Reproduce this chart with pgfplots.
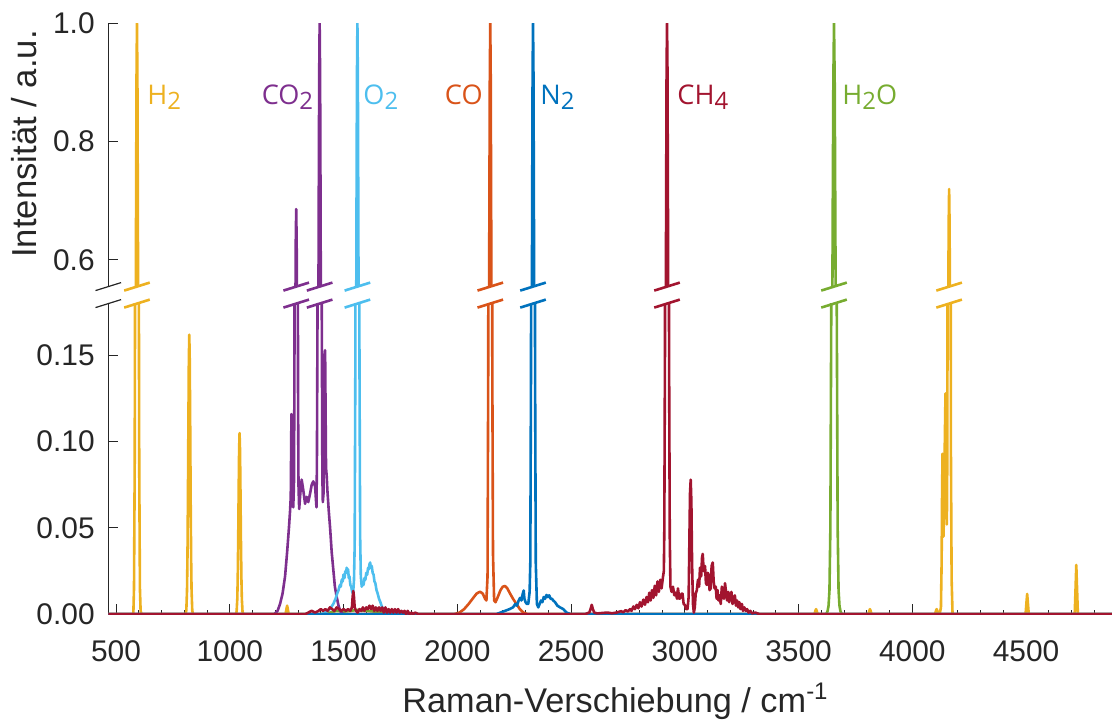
\documentclass[border=0pt]{standalone}
\usepackage{pgfplots}
\pgfplotsset{compat=1.18}
\usepackage{pgfplotstable}
\usepackage{fontspec}
\setmainfont{Liberation Sans}
\newfontfamily\lblfont{Open Sans}

\definecolor{cH}{HTML}{EDB120}
\definecolor{cCOz}{HTML}{7E2F8E}
\definecolor{cO}{HTML}{4DBEEE}
\definecolor{cCO}{HTML}{D95319}
\definecolor{cN}{HTML}{0072BD}
\definecolor{cCH}{HTML}{A2142F}
\definecolor{cW}{HTML}{77AC30}
\definecolor{cAx}{HTML}{262626}

% H2
\pgfplotstableread{
x y
466 0
576 0
579 0.015
582 0.085
584 0.206
586 0.411
588 0.674
590 0.906
592 1.0
594 0.906
596 0.674
598 0.411
600 0.206
602 0.085
605 0.015
608 0.002
612 0
806 0
809 0.0024
812 0.0138
814 0.0334
816 0.0666
818 0.109
820 0.147
822 0.162
824 0.147
826 0.109
828 0.0666
830 0.0334
832 0.0138
835 0.0024
838 0
1027 0
1030 0.0016
1033 0.0089
1035 0.0216
1037 0.0432
1039 0.0708
1041 0.0951
1043 0.105
1045 0.0951
1047 0.0708
1049 0.0432
1051 0.0216
1053 0.0089
1056 0.0016
1059 0
1245 0
1249 0.003
1252 0.005
1255 0.003
1259 0
3570 0
3574 0.002
3577 0.003
3580 0.002
3584 0
3807 0
3811 0.002
3814 0.003
3817 0.002
3821 0
4100 0
4104 0.002
4107 0.003
4110 0.002
4114 0
4120 0
4126 0.004
4129 0.030
4131 0.070
4133 0.093
4135 0.070
4137 0.045
4140 0.060
4143 0.100
4146 0.128
4148 0.110
4150 0.075
4152 0.052
4154 0.090
4156 0.26
4158 0.50
4160 0.66
4162 0.72
4164 0.66
4166 0.50
4168 0.26
4170 0.09
4173 0.02
4177 0
4498 0
4502 0.007
4505 0.0118
4508 0.007
4512 0
4714 0
4718 0.016
4721 0.0286
4724 0.016
4728 0
4878 0
}\tabH

% CO2
\pgfplotstableread{
x y
466 0
1195 0
1210 0.002
1221 0.006
1232 0.012
1243 0.022
1252 0.036
1260 0.050
1265 0.060
1268 0.068
1270 0.100
1271 0.116
1272 0.100
1275 0.067
1279 0.062
1282 0.075
1284 0.130
1286 0.300
1288 0.480
1290 0.630
1292 0.686
1294 0.630
1296 0.480
1298 0.300
1300 0.130
1302 0.075
1305 0.061
1310 0.070
1316 0.078
1323 0.072
1331 0.064
1338 0.068
1345 0.065
1353 0.070
1360 0.075
1367 0.077
1375 0.074
1381 0.062
1383 0.087
1386 0.187
1389 0.446
1391 0.694
1393 0.912
1395 1.0
1397 0.912
1399 0.694
1401 0.446
1404 0.187
1407 0.080
1409 0.065
1412 0.070
1415 0.110
1417 0.150
1419 0.153
1421 0.120
1423 0.085
1426 0.080
1429 0.072
1435 0.060
1441 0.050
1448 0.036
1455 0.026
1462 0.016
1470 0.010
1478 0.005
1485 0.002
1499 0
4878 0
}\tabCOz

% O2
\pgfplotstableread{
x y
466 0
1400 0
1420 0.001
1440 0.003
1455 0.006
1465 0.009
1472 0.012
1478 0.014
1484 0.017
1488 0.016
1492 0.020
1496 0.019
1500 0.023
1504 0.021
1508 0.025
1511 0.024
1514 0.027
1517 0.024
1520 0.026
1523 0.021
1526 0.022
1530 0.017
1534 0.016
1538 0.013
1542 0.012
1546 0.020
1549 0.040
1552 0.147
1555 0.42
1557 0.68
1559 0.91
1561 1.0
1563 0.91
1565 0.68
1567 0.42
1570 0.15
1573 0.045
1576 0.022
1580 0.016
1584 0.018
1588 0.017
1592 0.021
1596 0.020
1600 0.024
1604 0.023
1608 0.027
1611 0.026
1614 0.029
1617 0.030
1620 0.027
1624 0.028
1628 0.024
1632 0.023
1636 0.019
1640 0.018
1645 0.014
1650 0.012
1656 0.009
1662 0.007
1670 0.004
1680 0.002
1700 0
4878 0
}\tabO

% CO
\pgfplotstableread{
x y
466 0
1985 0
2010 0.001
2030 0.003
2050 0.006
2070 0.0095
2085 0.012
2100 0.0131
2112 0.012
2122 0.009
2128 0.008
2133 0.022
2136 0.142
2139 0.42
2141 0.68
2143 0.91
2145 1.0
2147 0.91
2149 0.68
2151 0.42
2154 0.142
2157 0.035
2162 0.008
2168 0.007
2178 0.010
2190 0.014
2200 0.016
2210 0.0164
2220 0.015
2232 0.012
2245 0.009
2260 0.006
2275 0.003
2290 0.001
2310 0
4878 0
}\tabCO

% N2
\pgfplotstableread{
x y
466 0
2170 0
2190 0.001
2210 0.002
2230 0.003
2245 0.004
2255 0.006
2262 0.005
2270 0.008
2276 0.0095
2282 0.008
2288 0.012
2292 0.0138
2295 0.009
2300 0.007
2306 0.006
2312 0.006
2318 0.013
2321 0.03
2324 0.14
2327 0.41
2329 0.67
2331 0.91
2333 1.0
2335 0.91
2337 0.67
2339 0.41
2342 0.14
2345 0.03
2350 0.006
2356 0.004
2362 0.006
2368 0.008
2374 0.007
2380 0.010
2386 0.009
2392 0.0112
2398 0.010
2404 0.011
2410 0.009
2416 0.009
2422 0.008
2430 0.007
2440 0.005
2452 0.004
2466 0.003
2480 0.001
2500 0
4878 0
}\tabN

% H2O
\pgfplotstableread{
x y
466 0
1420 0
1440 0.001
1470 0.002
1500 0.0015
1530 0.002
1560 0.0025
1600 0.002
1640 0.0015
1680 0.001
1720 0
3622 0
3628 0.002
3632 0.005
3636 0.014
3640 0.05
3644 0.18
3647 0.38
3650 0.65
3653 0.90
3656 1.0
3659 0.90
3662 0.65
3665 0.38
3668 0.18
3672 0.05
3676 0.014
3680 0.005
3684 0.002
3690 0
4878 0
}\tabW

% CH4
\pgfplotstableread{
x y
466 0
1330 0
1345 0.001
1360 0.002
1375 0.001
1390 0.002
1400 0.003
1410 0.002
1420 0.003
1430 0.002
1440 0.004
1450 0.003
1460 0.002
1470 0.004
1480 0.003
1490 0.002
1500 0.003
1510 0.002
1520 0.003
1530 0.002
1537 0.004
1540 0.010
1543 0.0135
1546 0.010
1549 0.004
1555 0.002
1562 0.001
1570 0.003
1578 0.002
1585 0.004
1592 0.002
1600 0.004
1607 0.003
1614 0.005
1621 0.003
1628 0.005
1635 0.002
1642 0.004
1649 0.002
1656 0.004
1663 0.002
1670 0.004
1677 0.001
1684 0.004
1691 0.001
1698 0.003
1705 0.001
1712 0.003
1719 0.001
1726 0.003
1733 0.001
1740 0.003
1747 0.001
1754 0.002
1761 0.001
1768 0.002
1775 0
1782 0.002
1790 0
1798 0.001
1806 0
1814 0.001
1830 0
2560 0
2580 0.001
2586 0.003
2591 0.0055
2596 0.003
2602 0.001
2615 0.0005
2640 0.0008
2660 0.001
2680 0.0006
2700 0.001
2720 0.0018
2730 0.0012
2740 0.0024
2750 0.0016
2759 0.0030
2766 0.0020
2774 0.0045
2781 0.0030
2789 0.0055
2796 0.0035
2803 0.0070
2810 0.0045
2818 0.0085
2825 0.0055
2832 0.0100
2838 0.0070
2844 0.0125
2850 0.0080
2856 0.0140
2862 0.0095
2868 0.0165
2874 0.0110
2880 0.0190
2886 0.0130
2892 0.0200
2898 0.0150
2904 0.0215
2908 0.025
2910 0.048
2913 0.155
2916 0.43
2918 0.69
2920 0.92
2922 1.0
2924 0.92
2926 0.69
2928 0.43
2931 0.15
2934 0.045
2937 0.016
2942 0.013
2948 0.016
2954 0.011
2960 0.0125
2966 0.009
2970 0.015
2976 0.009
2981 0.0095
2986 0.012
2990 0.012
2995 0.006
3000 0.0055
3006 0.003
3012 0.003
3017 0.010
3020 0.040
3023 0.070
3026 0.078
3029 0.065
3032 0.030
3036 0.006
3040 0.001
3044 0.004
3048 0.012
3053 0.014
3058 0.020
3063 0.016
3067 0.027
3072 0.022
3076 0.033
3079 0.035
3083 0.025
3086 0.026
3089 0.028
3093 0.018
3097 0.017
3101 0.024
3105 0.023
3109 0.014
3114 0.015
3118 0.028
3123 0.030
3127 0.019
3131 0.015
3136 0.016
3140 0.009
3144 0.014
3148 0.008
3153 0.011
3158 0.006
3163 0.016
3168 0.012
3172 0.009
3177 0.018
3182 0.012
3186 0.008
3191 0.013
3195 0.007
3200 0.010
3205 0.013
3210 0.006
3215 0.008
3220 0.011
3225 0.005
3230 0.008
3235 0.004
3240 0.007
3245 0.003
3251 0.006
3256 0.002
3262 0.004
3268 0.002
3274 0.003
3280 0.001
3288 0.002
3296 0.0005
3310 0.001
3330 0
4878 0
}\tabCH

\pgfplotsset{
  spectrum/.style={
    scale only axis,
    width=501.85bp,
    xmin=466, xmax=4878,
    clip mode=individual,
    axis line style={cAx, line width=0.5bp},
    tick style={cAx, line width=0.5bp},
    major tick length=5bp,
    minor tick length=2.2bp,
    ticklabel style={font=\fontsize{15}{18}\selectfont, text=cAx},
    /pgf/number format/assume math mode=true,
    every axis plot/.append style={line width=1.3bp, line join=round, mark=none},
  },
}

\newcommand{\sub}[1]{\raisebox{-2.5bp}{\fontsize{12}{14}\selectfont #1}}

\begin{document}
\begin{tikzpicture}
% lower part: 0 ... 0.18
\begin{axis}[spectrum,
  at={(54.15bp,53.85bp)}, anchor=south west,
  height=155.35bp,
  ymin=0, ymax=0.18,
  axis x line*=bottom, axis y line*=left,
  xtick={500,1000,...,4500},
  minor xtick={500,600,...,4800},
  ytick={0,0.05,0.10,0.15},
  yticklabel style={/pgf/number format/fixed, /pgf/number format/fixed zerofill, /pgf/number format/precision=2, xshift=-3.3bp},
  xticklabel style={/pgf/number format/set thousands separator={}, yshift=-9.5bp},
  tick align=inside,
]
\addplot[cW] table {\tabW};
\addplot[cH] table {\tabH};
\addplot[cCOz] table {\tabCOz};
\addplot[cO] table {\tabO};
\addplot[cCO] table {\tabCO};
\addplot[cN] table {\tabN};
\addplot[cCH] table {\tabCH};
% break marks on the peaks
\draw[cH, line width=1.3bp] ([shift={(-6.4bp,-2bp)}]axis cs:592,0.18) -- ([shift={(6.4bp,2bp)}]axis cs:592,0.18);
\draw[cCOz, line width=1.3bp] ([shift={(-6.4bp,-2bp)}]axis cs:1292,0.18) -- ([shift={(6.4bp,2bp)}]axis cs:1292,0.18);
\draw[cCOz, line width=1.3bp] ([shift={(-6.4bp,-2bp)}]axis cs:1395,0.18) -- ([shift={(6.4bp,2bp)}]axis cs:1395,0.18);
\draw[cO, line width=1.3bp] ([shift={(-6.4bp,-2bp)}]axis cs:1561,0.18) -- ([shift={(6.4bp,2bp)}]axis cs:1561,0.18);
\draw[cCO, line width=1.3bp] ([shift={(-6.4bp,-2bp)}]axis cs:2145,0.18) -- ([shift={(6.4bp,2bp)}]axis cs:2145,0.18);
\draw[cN, line width=1.3bp] ([shift={(-6.4bp,-2bp)}]axis cs:2333,0.18) -- ([shift={(6.4bp,2bp)}]axis cs:2333,0.18);
\draw[cCH, line width=1.3bp] ([shift={(-6.4bp,-2bp)}]axis cs:2922,0.18) -- ([shift={(6.4bp,2bp)}]axis cs:2922,0.18);
\draw[cW, line width=1.3bp] ([shift={(-6.4bp,-2bp)}]axis cs:3656,0.18) -- ([shift={(6.4bp,2bp)}]axis cs:3656,0.18);
\draw[cH, line width=1.3bp] ([shift={(-6.4bp,-2bp)}]axis cs:4162,0.18) -- ([shift={(6.4bp,2bp)}]axis cs:4162,0.18);
\end{axis}

% upper part: 0.555 ... 1.0
\begin{axis}[spectrum,
  at={(54.15bp,217.7bp)}, anchor=south west,
  height=131.65bp,
  ymin=0.555, ymax=1.0,
  hide x axis, axis y line*=left,
  ytick={0.6,0.8,1.0},
  yticklabel style={/pgf/number format/fixed, /pgf/number format/fixed zerofill, /pgf/number format/precision=1, xshift=-3.3bp},
  tick align=inside,
]
\addplot[cW] table {\tabW};
\addplot[cH] table {\tabH};
\addplot[cCOz] table {\tabCOz};
\addplot[cO] table {\tabO};
\addplot[cCO] table {\tabCO};
\addplot[cN] table {\tabN};
\addplot[cCH] table {\tabCH};
\draw[cH, line width=1.3bp] ([shift={(-6.4bp,-2bp)}]axis cs:592,0.555) -- ([shift={(6.4bp,2bp)}]axis cs:592,0.555);
\draw[cCOz, line width=1.3bp] ([shift={(-6.4bp,-2bp)}]axis cs:1292,0.555) -- ([shift={(6.4bp,2bp)}]axis cs:1292,0.555);
\draw[cCOz, line width=1.3bp] ([shift={(-6.4bp,-2bp)}]axis cs:1395,0.555) -- ([shift={(6.4bp,2bp)}]axis cs:1395,0.555);
\draw[cO, line width=1.3bp] ([shift={(-6.4bp,-2bp)}]axis cs:1561,0.555) -- ([shift={(6.4bp,2bp)}]axis cs:1561,0.555);
\draw[cCO, line width=1.3bp] ([shift={(-6.4bp,-2bp)}]axis cs:2145,0.555) -- ([shift={(6.4bp,2bp)}]axis cs:2145,0.555);
\draw[cN, line width=1.3bp] ([shift={(-6.4bp,-2bp)}]axis cs:2333,0.555) -- ([shift={(6.4bp,2bp)}]axis cs:2333,0.555);
\draw[cCH, line width=1.3bp] ([shift={(-6.4bp,-2bp)}]axis cs:2922,0.555) -- ([shift={(6.4bp,2bp)}]axis cs:2922,0.555);
\draw[cW, line width=1.3bp] ([shift={(-6.4bp,-2bp)}]axis cs:3656,0.555) -- ([shift={(6.4bp,2bp)}]axis cs:3656,0.555);
\draw[cH, line width=1.3bp] ([shift={(-6.4bp,-2bp)}]axis cs:4162,0.555) -- ([shift={(6.4bp,2bp)}]axis cs:4162,0.555);
% species names
\begin{scope}[every node/.style={inner sep=0pt, font=\lblfont\fontsize{13.6}{16}\selectfont}]
\node[text=cH, anchor=base west] at (axis cs:636,0.863) {H\sub{2}};
\node[text=cCOz, anchor=base east] at (axis cs:1368,0.863) {CO\sub{2}};
\node[text=cO, anchor=base west] at (axis cs:1586,0.863) {O\sub{2}};
\node[text=cCO, anchor=base east] at (axis cs:2113,0.863) {CO};
\node[text=cN, anchor=base west] at (axis cs:2364,0.863) {N\sub{2}};
\node[text=cCH, anchor=base west] at (axis cs:2966,0.863) {CH\sub{4}};
\node[text=cW, anchor=base west] at (axis cs:3691,0.863) {H\sub{2}O};
\end{scope}
\end{axis}

% break on the intensity axis
\draw[cAx, line width=0.6bp] (47.75bp,215.7bp) -- (60.55bp,219.7bp);
\draw[cAx, line width=0.6bp] (47.75bp,207.2bp) -- (60.55bp,211.2bp);

% axis titles
\node[rotate=90, anchor=base, inner sep=0pt, text=cAx, font=\fontsize{17.4}{20}\selectfont] at (18.35bp,289bp) {Intensität / a.u.};
\node[anchor=base, inner sep=0pt, text=cAx, font=\fontsize{17.2}{20}\selectfont] at (307.75bp,5bp) {Raman-Verschiebung / cm\textsuperscript{-1}};

\pgfresetboundingbox
\useasboundingbox (0,0) rectangle (556bp,361bp);
\end{tikzpicture}
\end{document}
